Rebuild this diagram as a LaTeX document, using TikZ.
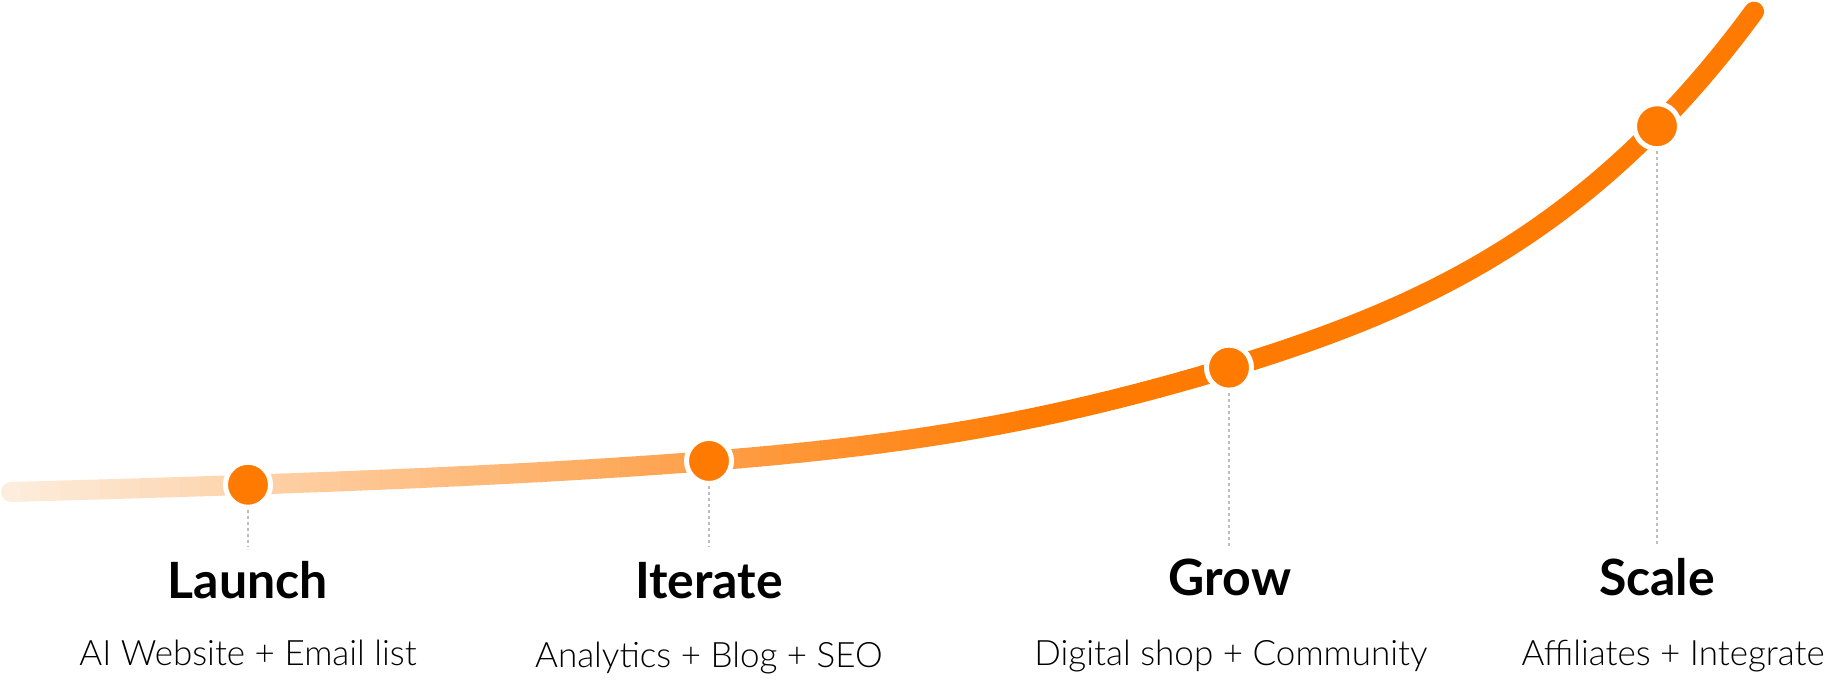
\documentclass[tikz,border=0pt]{standalone}
\usepackage{fontspec}
\setmainfont{Lato}
\newfontfamily\lightfont{Lato Light}
\definecolor{brandorange}{HTML}{FF7A00}
\definecolor{peach}{HTML}{FDEEDF}
\definecolor{dashgray}{HTML}{BDBDBD}
\begin{document}
\begin{tikzpicture}[x=1pt,y=-1pt,
  dot/.style={circle,fill=brandorange,draw=white,line width=5pt,minimum size=45pt,inner sep=0pt},
  guide/.style={draw=dashgray,line width=1.5pt,dash pattern=on 3pt off 3pt},
  title/.style={anchor=base,font=\fontsize{50}{58}\selectfont\bfseries,text=black},
  sub/.style={anchor=base,font=\fontsize{35}{42}\selectfont\lightfont,text=black},
  curve/.style={line width=20pt,line cap=round,line join=round},
  declare function={growth(\u)=492-(0.02*(\u-9)+2.36*(exp(0.003*(\u-9))-1)+10*exp(-((\u-1250)/250)^2));}]
\clip (0,0) rectangle (1833,681);
\path[save path=\growthcurve] plot[domain=11:1754,samples=300] (\x,{growth(\x)});
\foreach \i in {0,...,59}{
  \pgfmathsetmacro{\xa}{\i*20}
  \pgfmathsetmacro{\xb}{\i*20+21}
  \pgfmathsetmacro{\t}{min(100,(\i*20+10)/1050*100)}
  \begin{scope}
    \clip (\xa,0) rectangle (\xb,681);
    \draw[curve,draw=brandorange!\t!peach,use path=\growthcurve];
  \end{scope}
}
\begin{scope}
  \clip (1200,0) rectangle (1833,681);
  \draw[curve,draw=brandorange,use path=\growthcurve];
\end{scope}
\node[dot] (d1) at (248,{growth(248)}) {};
\node[dot] (d2) at (709,{growth(709)}) {};
\node[dot] (d3) at (1229,{growth(1229)}) {};
\node[dot] (d4) at (1657,{growth(1657)}) {};
\coordinate (e1) at (248,546);
\coordinate (e2) at (709,546);
\coordinate (e3) at (1229,546);
\coordinate (e4) at (1657,546);
\draw[guide] (d1.south) -- (e1);
\draw[guide] (d2.south) -- (e2);
\draw[guide] (d3.south) -- (e3);
\draw[guide] (d4.south) -- (e4);
\node[title] (t1) at (248,598) {Launch};
\node[title] (t2) at (709,598) {Iterate};
\node[title] (t3) at (1230,595) {Grow};
\node[title] (t4) at (1657,595) {Scale};
\node[sub] (s1) at (248,665) {AI Website + Email list};
\node[sub] (s2) at (709,667) {Analytics + Blog + SEO};
\node[sub] (s3) at (1231,665) {Digital shop + Community};
\node[sub,anchor=base west] (s4) at (1518,665) {Affiliates + Integrate};
\end{tikzpicture}
\end{document}
